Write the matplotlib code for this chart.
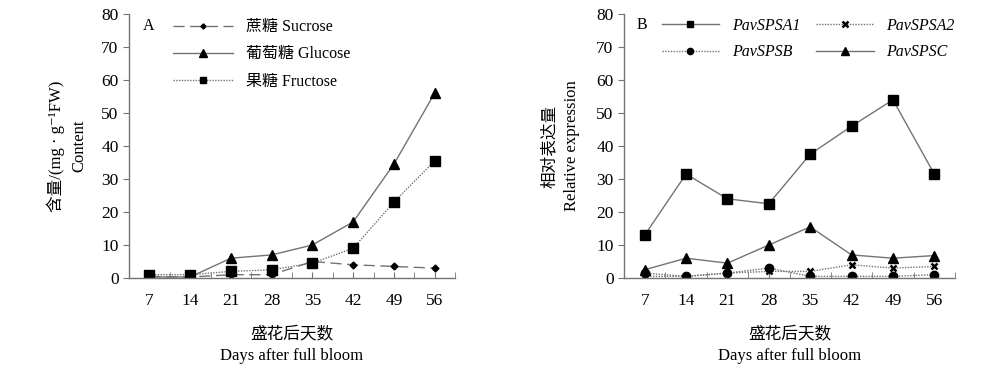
import matplotlib.pyplot as plt
from matplotlib.ticker import MultipleLocator

plt.rcParams['font.family'] = ['Liberation Serif', 'Noto Sans CJK SC', 'DejaVu Serif']

DAYS = ["7", "14", "21", "28", "35", "42", "49", "56"]

# panel A: sugar content (mg/g FW)
SUCROSE  = [0.5, 0.3, 1.0, 1.0, 5.0, 4.0, 3.5, 3.0]
GLUCOSE  = [0.3, 0.3, 6.0, 7.0, 10.0, 17.0, 34.5, 56.0]
FRUCTOSE = [1.0, 1.0, 2.0, 2.5, 4.5, 9.0, 23.0, 35.5]

# panel B: relative expression
SPSA1 = [13.0, 31.5, 24.0, 22.5, 37.5, 46.0, 54.0, 31.5]
SPSA2 = [0.5, 0.5, 1.5, 2.0, 2.0, 4.0, 3.0, 3.5]
SPSB  = [1.5, 0.5, 1.5, 3.0, 0.5, 0.5, 0.5, 1.0]
SPSC  = [2.5, 6.0, 4.5, 10.0, 15.5, 7.0, 6.0, 6.8]

LINE = "0.45"
FS = 11.5   # legend / panel letters
TFS = 12.5  # tick labels
LFS = 12    # axis labels


def style_axis(ax):
    x = range(len(DAYS))
    ax.set_xlim(-0.5, len(DAYS) - 0.5)
    ax.set_ylim(0, 80)
    ax.set_xticks(list(x))
    ax.set_xticklabels(DAYS, fontsize=TFS)
    ax.set_xticks([i - 0.5 for i in range(len(DAYS) + 1)], minor=True)
    ax.tick_params(axis="x", which="both", direction="in", length=4, pad=11)
    ax.yaxis.set_major_locator(MultipleLocator(10))
    ax.tick_params(axis="y", direction="out", length=4, labelsize=TFS)
    for side in ("top", "right"):
        ax.spines[side].set_visible(False)
    for side in ("left", "bottom"):
        ax.spines[side].set_color(LINE)
        ax.spines[side].set_linewidth(1.0)
    ax.tick_params(which="both", color=LINE)


fig = plt.figure(figsize=(10, 3.69), dpi=100)
axA = fig.add_axes([0.129, 0.2466, 0.326, 0.7154])
axB = fig.add_axes([0.624, 0.2466, 0.331, 0.7154])

x = list(range(len(DAYS)))

axA.plot(x, SUCROSE, color=LINE, lw=1, ls=(0, (8, 4)), marker="D", ms=3.5,
         mfc="k", mec="k", label="蔗糖 Sucrose")
axA.plot(x, GLUCOSE, color=LINE, lw=1, marker="^", ms=7,
         mfc="k", mec="k", label="葡萄糖 Glucose")
axA.plot(x, FRUCTOSE, color=LINE, lw=1, ls=(0, (1, 1)), marker="s", ms=6.5,
         mfc="k", mec="k", label="果糖 Fructose")
style_axis(axA)
axA.text(0.06, 0.955, "A", transform=axA.transAxes, fontsize=FS,
         ha="center", va="center")
axA.legend(loc="upper left", bbox_to_anchor=(0.09, 1.035), frameon=False,
           fontsize=FS, handlelength=3.8, labelspacing=0.7, markerscale=0.75)
axA.set_ylabel("含量/(mg · g⁻¹FW)\nContent", fontsize=LFS, labelpad=10,
               linespacing=1.5)
axA.set_xlabel("盛花后天数\nDays after full bloom", fontsize=LFS, labelpad=12,
               linespacing=1.5)

hA1, = axB.plot(x, SPSA1, color=LINE, lw=1, marker="s", ms=6.5,
                mfc="k", mec="k", label="PavSPSA1")
hA2, = axB.plot(x, SPSA2, color=LINE, lw=1, ls=(0, (1, 1)), marker="x", ms=5,
                mew=1.8, mec="k", label="PavSPSA2")
hB, = axB.plot(x, SPSB, color=LINE, lw=1, ls=(0, (1, 1)), marker="o", ms=6,
               mfc="k", mec="k", label="PavSPSB")
hC, = axB.plot(x, SPSC, color=LINE, lw=1, marker="^", ms=7,
               mfc="k", mec="k", label="PavSPSC")
style_axis(axB)
axB.text(0.055, 0.96, "B", transform=axB.transAxes, fontsize=FS,
         ha="center", va="center")
handles = [hA1, hB, hA2, hC]
legB = axB.legend(handles, [h.get_label() for h in handles],
                  loc="upper left", bbox_to_anchor=(0.07, 1.04), frameon=False,
                  fontsize=FS, ncol=2, handlelength=3.6, labelspacing=0.65,
                  columnspacing=1.0, markerscale=0.75)
for t in legB.get_texts():
    t.set_fontstyle("italic")
axB.set_ylabel("相对表达量\nRelative expression", fontsize=LFS, labelpad=12,
               linespacing=1.5)
axB.set_xlabel("盛花后天数\nDays after full bloom", fontsize=LFS, labelpad=12,
               linespacing=1.5)

fig.savefig("out.png", dpi=100)
